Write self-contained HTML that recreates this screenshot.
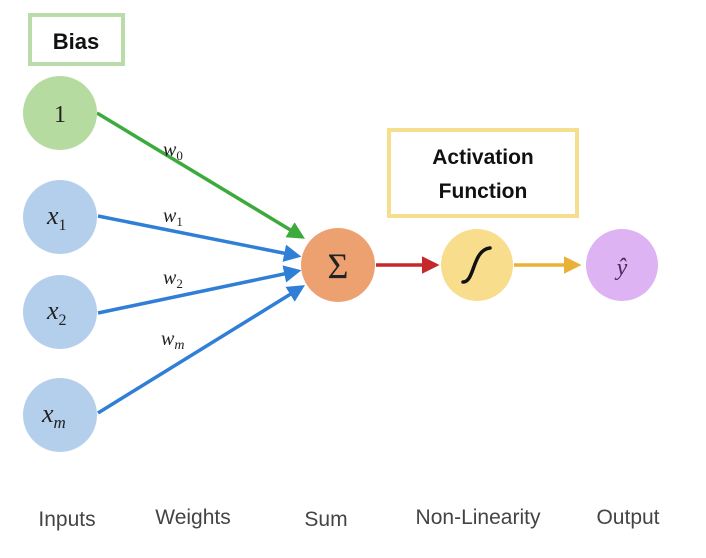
<!DOCTYPE html>
<html><head><style>
body{margin:0;background:#fff;}
svg{display:block;}
</style></head><body>
<svg width="706" height="558" viewBox="0 0 706 558" xmlns="http://www.w3.org/2000/svg">
<defs>
<marker id="g" markerWidth="5" markerHeight="5" refX="4" refY="2.5" orient="auto" markerUnits="strokeWidth"><path d="M0,0 L5,2.5 L0,5 z" fill="#3daa3d"/></marker>
<marker id="b" markerWidth="5" markerHeight="5" refX="4" refY="2.5" orient="auto" markerUnits="strokeWidth"><path d="M0,0 L5,2.5 L0,5 z" fill="#2f7fd6"/></marker>
<marker id="r" markerWidth="5" markerHeight="5" refX="4" refY="2.5" orient="auto" markerUnits="strokeWidth"><path d="M0,0 L5,2.5 L0,5 z" fill="#c4282a"/></marker>
<marker id="o" markerWidth="5" markerHeight="5" refX="4" refY="2.5" orient="auto" markerUnits="strokeWidth"><path d="M0,0 L5,2.5 L0,5 z" fill="#e9b236"/></marker>
</defs>
<rect x="30" y="15" width="93" height="49" fill="#fff" stroke="#b9dcaa" stroke-width="4"/>
<text x="76" y="49" text-anchor="middle" font-family="Liberation Sans, sans-serif" font-weight="bold" font-size="22" fill="#111">Bias</text>
<rect x="389" y="130" width="188" height="86" fill="#fff" stroke="#f5de8e" stroke-width="4"/>
<text x="483" y="164" text-anchor="middle" font-family="Liberation Sans, sans-serif" font-weight="bold" font-size="21" fill="#111">Activation</text>
<text x="483" y="198" text-anchor="middle" font-family="Liberation Sans, sans-serif" font-weight="bold" font-size="21" fill="#111">Function</text>

<line x1="97" y1="113" x2="302" y2="237" stroke="#3daa3d" stroke-width="3.5" marker-end="url(#g)"/>
<line x1="98" y1="216" x2="298" y2="256" stroke="#2f7fd6" stroke-width="3.5" marker-end="url(#b)"/>
<line x1="98" y1="313" x2="298" y2="271" stroke="#2f7fd6" stroke-width="3.5" marker-end="url(#b)"/>
<line x1="98" y1="413" x2="302" y2="287" stroke="#2f7fd6" stroke-width="3.5" marker-end="url(#b)"/>
<line x1="376" y1="265" x2="436" y2="265" stroke="#c4282a" stroke-width="3.5" marker-end="url(#r)"/>
<line x1="514" y1="265" x2="578" y2="265" stroke="#e9b236" stroke-width="3.5" marker-end="url(#o)"/>

<circle cx="60" cy="113" r="37" fill="#b6dba0"/>
<circle cx="60" cy="217" r="37" fill="#b4cfec"/>
<circle cx="60" cy="312" r="37" fill="#b4cfec"/>
<circle cx="60" cy="415" r="37" fill="#b4cfec"/>
<circle cx="338" cy="265" r="37" fill="#eda170"/>
<circle cx="477" cy="265" r="36" fill="#f8de8c"/>
<circle cx="622" cy="265" r="36" fill="#ddb3f3"/>

<g font-family="Liberation Serif, serif" fill="#222">
<text x="60" y="122" text-anchor="middle" font-size="24">1</text>
<text x="47" y="224" font-size="26" font-style="italic">x<tspan font-size="16" dy="6" font-style="normal">1</tspan></text>
<text x="47" y="319" font-size="26" font-style="italic">x<tspan font-size="16" dy="6" font-style="normal">2</tspan></text>
<text x="42" y="422" font-size="26" font-style="italic">x<tspan font-size="17" dy="6">m</tspan></text>
<text x="338" y="278" text-anchor="middle" font-size="36">Σ</text>
<text x="622" y="275" text-anchor="middle" font-size="24" font-style="italic" fill="#4a2a5a">ŷ</text>
<text x="163" y="156" font-size="20" font-style="italic">w<tspan font-size="13" dy="4" font-style="normal">0</tspan></text>
<text x="163" y="222" font-size="20" font-style="italic">w<tspan font-size="13" dy="4" font-style="normal">1</tspan></text>
<text x="163" y="284" font-size="20" font-style="italic">w<tspan font-size="13" dy="4" font-style="normal">2</tspan></text>
<text x="161" y="345" font-size="20" font-style="italic">w<tspan font-size="14" dy="4">m</tspan></text>
</g>
<path d="M463,282 C475,282 472,250 490,248" fill="none" stroke="#111" stroke-width="3.5" stroke-linecap="round"/>

<g font-family="Liberation Sans, sans-serif" font-size="21" fill="#444" text-anchor="middle">
<text x="67" y="526">Inputs</text>
<text x="193" y="524">Weights</text>
<text x="326" y="526">Sum</text>
<text x="478" y="524">Non-Linearity</text>
<text x="628" y="524">Output</text>
</g>
</svg>
</body></html>
